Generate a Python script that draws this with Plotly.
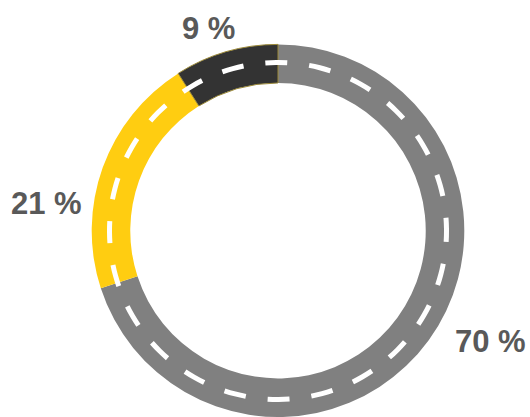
import plotly.graph_objects as go

# Data
labels = ["Gray", "Yellow", "Dark"]
values = [70, 21, 9]
label_texts = ["70 %", "21 %", "9 %"]
colors = ["#808080", "#FFCD11", "#333333"]

W, H = 530, 417
cx, cy_top = 278, 231.0          # pie centre in px (from top-left)
R = 186.6                         # outer radius px
hole = 0.793
r_dash = 168.5                    # dashed centre line radius px

cy = H - cy_top                   # from bottom

fig = go.Figure()
fig.add_trace(go.Pie(
    labels=labels, values=values, sort=False, direction="clockwise",
    rotation=0, hole=hole, textinfo="none", hoverinfo="label+percent",
    marker=dict(colors=colors, line=dict(color=["#808080", "#FFCD11", "#9c8a3a"], width=[0, 0, 1])),
    domain=dict(x=[(cx - R) / W, (cx + R) / W],
                y=[max(0, (cy - R) / H), min(1, (cy + R) / H)]),
    showlegend=False,
))

# dashed road marking
fig.add_shape(type="circle", xref="paper", yref="paper",
              x0=(cx - r_dash) / W, x1=(cx + r_dash) / W,
              y0=(cy - r_dash) / H, y1=(cy + r_dash) / H,
              line=dict(color="white", width=5, dash="11px,22px,11px,0px"),
              layer="above")

label_pos = [(490, 341), (46.5, 203.5), (208.5, 28.5)]
for txt, (px, py) in zip(label_texts, label_pos):
    fig.add_annotation(x=px / W, y=1 - py / H, xref="paper", yref="paper",
                       text="<b>%s</b>" % txt, showarrow=False,
                       xanchor="center", yanchor="middle",
                       font=dict(family="Liberation Sans", size=31, color="#595959"))

fig.update_layout(width=W, height=H, margin=dict(l=0, r=0, t=0, b=0),
                  paper_bgcolor="white", plot_bgcolor="white")
fig.write_html("out.html", config={"displayModeBar": False},
               post_script="document.body.style.margin='0';document.body.style.overflow='hidden';")
